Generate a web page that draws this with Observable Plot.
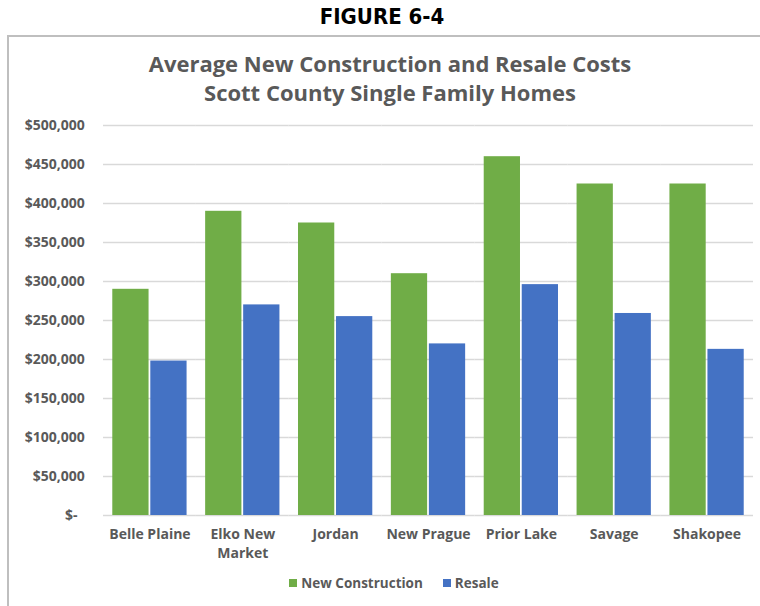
<!DOCTYPE html>
<html><head><meta charset="utf-8">
<script src="https://cdn.jsdelivr.net/npm/d3@7"></script>
<script src="https://cdn.jsdelivr.net/npm/@observablehq/plot@0.6"></script>
<style>
body{margin:0;background:#fff;}
#wrap{position:relative;width:760px;height:606px;overflow:hidden;background:#fff;font-family:"Open Sans",sans-serif;}
#fig{position:absolute;top:4px;left:0;width:764px;text-align:center;font-family:"DejaVu Sans",sans-serif;font-stretch:condensed;font-weight:bold;font-size:22px;color:#000;}
#box{position:absolute;left:7px;top:35px;width:800px;height:700px;border:2px solid #bfbfbf;}
#title{position:absolute;top:49px;left:0;width:780px;text-align:center;color:#595959;font-weight:bold;font-size:22px;line-height:29px;}
#chart{position:absolute;left:0;top:110px;}
#legend{position:absolute;top:574px;left:0;width:788px;display:flex;justify-content:center;align-items:center;color:#595959;font-weight:bold;font-size:13.5px;}
#legend .item{display:flex;align-items:center;margin:0 10px;}
#legend .sw{width:8px;height:8px;margin-right:4px;}
</style></head>
<body><div id="wrap">
<div id="fig">FIGURE 6-4</div>
<div id="box"></div>
<div id="title">Average New Construction and Resale Costs<br>Scott County Single Family Homes</div>
<div id="chart"></div>
<div id="legend"></div>
</div>
<script>
const cities = ["Belle Plaine","Elko New Market","Jordan","New Prague","Prior Lake","Savage","Shakopee"];
const newConstruction = [290000,390000,375000,310000,460000,425000,425000];
const resale = [198000,270000,255000,220000,296000,259000,213000];
const seriesNames = ["New Construction","Resale"];
const colors = ["#70ad47","#4472c4"];
const yTicks = [0,50000,100000,150000,200000,250000,300000,350000,400000,450000,500000];

const data = cities.flatMap((c,i)=>[
  {city:c, series:seriesNames[0], value:newConstruction[i]},
  {city:c, series:seriesNames[1], value:resale[i]}
]);
const fmtY = d => d===0 ? "$-\u00a0\u00a0" : "$" + d3.format(",")(d);
const fmtX = d => d==="Elko New Market" ? "Elko New\nMarket" : d;

const W = 760, ML = 103, MR = 7;
const fxPadInner = 0.2, fxPadOuter = 0.1;
const step = (W - ML - MR) / (cities.length - fxPadInner + 2*fxPadOuter);
const gridExt = -step * fxPadInner / 2;

const chart = Plot.plot({
  width:W, height:460,
  marginTop:15, marginBottom:55, marginLeft:ML, marginRight:MR,
  style:{fontFamily:"'Open Sans',sans-serif", fontSize:"13px", fontWeight:"bold", color:"#595959", background:"transparent"},
  fx:{domain:cities, paddingInner:fxPadInner, paddingOuter:fxPadOuter, round:false, label:null},
  x:{domain:seriesNames, axis:null, paddingInner:0.046, paddingOuter:0, round:false},
  y:{domain:[0,500000], label:null, axis:null},
  color:{domain:seriesNames, range:colors},
  marks:[
    Plot.ruleY(yTicks, {stroke:"#d9d9d9", strokeWidth:1.3, insetLeft:gridExt, insetRight:gridExt}),
    Plot.barY(data, {fx:"city", x:"series", y:"value", fill:"series"}),
    Plot.axisY(yTicks, {tickSize:0, tickPadding:28, tickFormat:fmtY, fill:"#595959", fontSize:14}),
    Plot.axisFx({anchor:"bottom", tickSize:0, tickPadding:11, tickFormat:fmtX, lineHeight:1.3, fill:"#595959", fontSize:14, label:null})
  ]
});
document.getElementById("chart").appendChild(chart);

const leg = document.getElementById("legend");
seriesNames.forEach((s,i)=>{
  const it = document.createElement("div"); it.className="item";
  const sw = document.createElement("div"); sw.className="sw"; sw.style.background=colors[i];
  const t = document.createElement("span"); t.textContent=s;
  it.appendChild(sw); it.appendChild(t); leg.appendChild(it);
});
</script>
</body></html>
